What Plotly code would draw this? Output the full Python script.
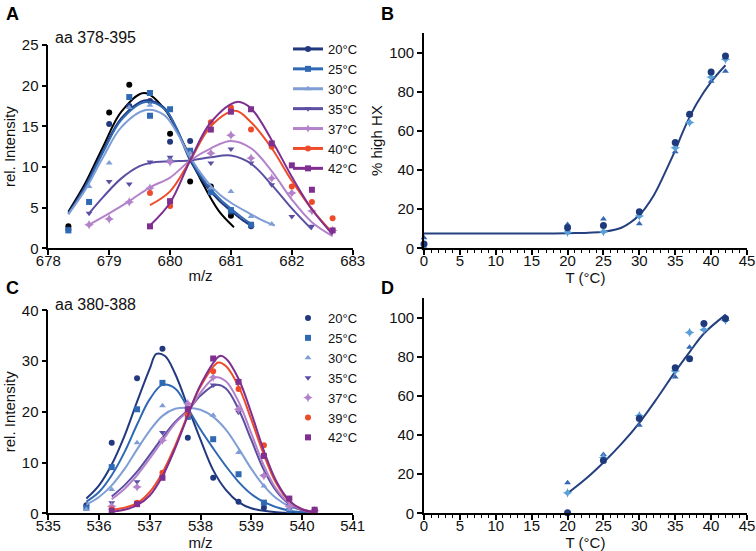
import plotly.graph_objects as go

W, H = 756, 551
FONT = "Liberation Sans, Arial, sans-serif"

# ---------------- Panel A: aa 378-395 ----------------
a_blk_x = [678.33, 679.0, 679.33, 680.0, 680.33, 680.67, 681.0]
a_blk_y = [2.7, 16.7, 20.1, 14.1, 8.2, 7.6, 4.0]
a20_x = [678.33, 679.0, 679.33, 679.67, 680.0, 680.33, 680.67, 681.0, 681.33]
a20_y = [2.3, 15.3, 17.5, 18.1, 13.1, 13.2, 7.2, 4.5, 2.7]
a25_x = [678.33, 678.67, 679.33, 679.67, 679.67, 680.0, 680.33, 680.67, 681.0, 681.33]
a25_y = [2.2, 5.7, 18.6, 19.1, 16.3, 17.1, 12.0, 6.9, 4.7, 2.9]
a30_x = [678.67, 679.0, 679.33, 679.67, 680.0, 680.33, 680.67, 681.0, 681.33, 681.67]
a30_y = [7.6, 10.5, 17.3, 17.6, 11.0, 11.7, 7.4, 7.0, 3.9, 3.0]
a35_x = [678.67, 679.0, 679.33, 679.67, 680.0, 680.67, 681.0, 681.33, 681.67, 682.0, 682.33]
a35_y = [4.3, 8.2, 7.9, 10.6, 11.2, 10.5, 12.2, 10.5, 7.8, 3.9, 2.7]
a37_x = [678.67, 679.0, 679.33, 679.67, 680.0, 680.67, 681.0, 681.33, 681.67, 682.0, 682.33, 682.67]
a37_y = [2.9, 3.6, 5.7, 7.4, 10.6, 11.7, 13.9, 11.1, 8.6, 6.8, 4.6, 2.2]
a40_x = [679.67, 680.0, 680.67, 681.0, 681.33, 681.67, 682.0, 682.33, 682.67]
a40_y = [6.8, 5.2, 15.5, 17.3, 14.6, 12.5, 7.6, 5.7, 3.7]
a42_x = [679.67, 680.0, 680.67, 681.0, 681.33, 681.67, 682.0, 682.33, 682.67]
a42_y = [2.7, 5.8, 14.6, 16.8, 17.1, 12.9, 10.2, 7.2, 2.2]

# fitted curves, panel A
fa_blk_x = [678.33, 678.6, 678.9, 679.2, 679.57, 679.9, 680.2, 680.5, 680.8, 681.05]
fa_blk_y = [4.5, 7.9, 12.5, 16.8, 19.1, 17.2, 13.2, 8.5, 4.6, 2.6]
fa20_x = [678.33, 678.6, 678.9, 679.2, 679.6, 679.9, 680.1, 680.33, 680.6, 680.8, 681.0, 681.2, 681.38]
fa20_y = [4.3, 7.6, 12.0, 16.0, 18.2, 17.3, 14.8, 10.8, 7.6, 5.9, 4.6, 3.4, 2.6]
fa25_x = [678.33, 678.6, 678.9, 679.2, 679.6, 679.9, 680.1, 680.33, 680.6, 680.8, 681.0, 681.2, 681.38]
fa25_y = [4.2, 7.4, 11.8, 15.8, 18.0, 17.2, 14.9, 11.0, 7.9, 6.2, 4.9, 3.7, 2.8]
fa30_x = [678.33, 678.6, 678.9, 679.2, 679.6, 679.9, 680.1, 680.33, 680.6, 680.8, 681.0, 681.3, 681.5, 681.72]
fa30_y = [4.2, 7.1, 11.2, 14.9, 17.0, 16.4, 14.4, 11.2, 8.3, 6.7, 5.6, 4.3, 3.5, 2.8]
fa35_x = [678.67, 678.9, 679.2, 679.5, 679.67, 680.0, 680.33, 680.67, 681.0, 681.33, 681.67, 682.0, 682.33]
fa35_y = [4.3, 6.3, 8.6, 10.1, 10.5, 10.7, 10.8, 11.2, 11.4, 10.4, 7.8, 4.9, 2.3]
fa37_x = [678.67, 679.0, 679.33, 679.67, 680.0, 680.33, 680.67, 681.0, 681.33, 681.67, 682.0, 682.33, 682.67]
fa37_y = [2.9, 4.3, 5.8, 7.5, 8.7, 10.8, 12.3, 13.2, 12.3, 9.5, 6.0, 3.2, 1.5]
fa40_x = [679.67, 680.0, 680.33, 680.67, 681.07, 681.33, 681.67, 682.0, 682.33, 682.67]
fa40_y = [5.3, 7.0, 10.8, 15.0, 16.9, 15.5, 12.3, 8.3, 4.8, 1.9]
fa42_x = [679.67, 680.0, 680.33, 680.67, 681.1, 681.33, 681.67, 682.0, 682.33, 682.67]
fa42_y = [2.8, 5.6, 10.8, 15.5, 18.0, 17.2, 13.3, 8.8, 4.8, 1.7]

# ---------------- Panel B ----------------
b_T = [0, 20, 25, 30, 35, 37, 40, 42]
b_circ = [2.2, 10.5, 11.7, 18.7, 54.1, 68.5, 90.1, 98.3]
b_tri = [5.4, 12.2, 15.0, 12.6, 49.3, 68.0, 85.4, 90.5]
b_dia = [0.0, 8.2, 8.5, 16.5, 51.4, 64.3, 87.5, 96.6]
fb_T = [0, 10, 20, 25, 27.5, 30, 32, 34, 35, 36, 37, 38, 40, 42]
fb_y = [7.6, 7.6, 7.7, 8.5, 10.5, 17.0, 27.0, 42.0, 50.0, 59.0, 67.0, 74.0, 85.0, 93.5]

# ---------------- Panel C: aa 380-388 ----------------
c20_x = [535.75, 536.25, 536.75, 537.25, 537.75, 538.25, 538.75, 539.25]
c20_y = [1.6, 13.9, 26.6, 32.4, 14.9, 7.0, 2.3, 1.1]
c25_x = [535.75, 536.25, 536.75, 537.25, 537.75, 538.25, 538.75, 539.25, 539.75, 540.25]
c25_y = [1.1, 9.1, 20.5, 25.7, 19.0, 14.6, 7.7, 2.1, 0.5, 0.3]
c30_x = [535.75, 536.25, 536.75, 537.25, 537.75, 538.25, 538.75, 539.25, 539.75, 540.25]
c30_y = [0.8, 4.7, 13.9, 21.2, 21.0, 19.3, 12.0, 5.4, 0.8, 0.3]
c35_x = [536.25, 536.75, 537.25, 537.75, 538.25, 538.75, 539.25, 539.75, 540.25]
c35_y = [2.1, 6.2, 15.9, 20.5, 25.3, 19.9, 7.4, 1.5, 0.4]
c37_x = [536.25, 536.75, 537.25, 537.75, 538.25, 538.75, 539.25, 539.75, 540.25]
c37_y = [1.4, 5.2, 14.4, 21.6, 26.8, 20.5, 7.4, 1.4, 0.5]
c39_x = [536.25, 536.75, 537.25, 537.75, 538.25, 538.75, 539.25, 539.75, 540.25]
c39_y = [0.8, 2.1, 8.0, 19.5, 28.0, 24.5, 13.4, 2.8, 0.5]
c42_x = [536.25, 536.75, 537.25, 537.75, 538.25, 538.75, 539.25, 539.75, 540.25]
c42_y = [0.5, 1.8, 7.0, 20.5, 30.5, 25.9, 11.3, 2.9, 0.7]

fc20_x = [535.75, 536.0, 536.25, 536.5, 536.75, 537.0, 537.13, 537.3, 537.5, 537.78, 538.0, 538.25, 538.5, 538.75, 539.0, 539.5, 540.25]
fc20_y = [2.9, 5.5, 9.6, 15.2, 22.0, 28.5, 31.4, 31.0, 27.5, 20.2, 14.5, 8.5, 4.6, 2.2, 1.0, 0.2, 0.0]
fc25_x = [535.75, 536.0, 536.25, 536.5, 536.75, 537.0, 537.25, 537.5, 537.78, 538.0, 538.25, 538.5, 538.75, 539.0, 539.25, 539.75, 540.25]
fc25_y = [2.3, 4.2, 7.5, 12.0, 17.5, 22.5, 25.3, 24.6, 20.2, 16.5, 12.8, 9.3, 6.2, 3.8, 2.2, 0.5, 0.1]
fc30_x = [535.75, 536.0, 536.25, 536.5, 536.75, 537.0, 537.25, 537.5, 537.75, 538.0, 538.25, 538.5, 538.75, 539.0, 539.25, 539.5, 539.75, 540.25]
fc30_y = [1.7, 3.2, 5.5, 8.7, 12.6, 16.3, 19.2, 20.6, 20.8, 20.4, 19.0, 16.5, 12.8, 8.8, 5.4, 2.9, 1.4, 0.2]
fc35_x = [536.25, 536.5, 536.75, 537.0, 537.25, 537.5, 537.78, 538.0, 538.3, 538.5, 538.75, 539.0, 539.25, 539.5, 539.75, 540.0, 540.25]
fc35_y = [3.3, 5.5, 8.2, 11.5, 14.9, 18.0, 20.6, 23.2, 25.3, 24.6, 20.5, 14.5, 8.5, 4.3, 1.8, 0.6, 0.2]
fc37_x = [536.25, 536.5, 536.75, 537.0, 537.25, 537.5, 537.78, 538.0, 538.3, 538.5, 538.75, 539.0, 539.25, 539.5, 539.75, 540.0, 540.25]
fc37_y = [2.8, 4.8, 7.5, 10.8, 14.3, 17.7, 20.5, 23.8, 26.8, 26.0, 22.0, 15.8, 9.4, 4.7, 2.0, 0.7, 0.2]
fc39_x = [536.25, 536.5, 536.75, 537.0, 537.25, 537.5, 537.78, 538.0, 538.35, 538.5, 538.75, 539.0, 539.25, 539.5, 539.75, 540.0, 540.25]
fc39_y = [0.7, 1.1, 2.0, 4.2, 8.0, 13.3, 20.2, 25.0, 29.7, 29.0, 25.0, 18.5, 11.5, 5.8, 2.4, 0.8, 0.2]
fc42_x = [536.25, 536.5, 536.75, 537.0, 537.25, 537.5, 537.78, 538.0, 538.38, 538.5, 538.75, 539.0, 539.25, 539.5, 539.75, 540.0, 540.25]
fc42_y = [0.3, 0.7, 1.6, 3.5, 7.3, 12.8, 20.0, 25.3, 31.0, 30.5, 26.5, 19.8, 12.3, 6.2, 2.5, 0.8, 0.2]

# ---------------- Panel D ----------------
d_T = [20, 25, 30, 35, 37, 39, 42]
d_circ = [0.3, 27.0, 48.5, 74.5, 79.1, 97.1, 99.7]
d_tri = [15.6, 30.1, 45.0, 69.7, 85.0, 94.0, 100.5]
d_dia = [10.5, 28.5, 50.0, 72.8, 92.5, 94.0, 98.8]
fd_T = [20, 22.5, 25, 27.5, 30, 32.5, 35, 37, 39, 42]
fd_y = [10.2, 17.5, 26.0, 35.5, 46.3, 59.0, 72.5, 82.5, 92.0, 101.5]

labels_A = ["20°C", "25°C", "30°C", "35°C", "37°C", "40°C", "42°C"]
labels_C = ["20°C", "25°C", "30°C", "35°C", "37°C", "39°C", "42°C"]

COL = {
    "20": "#22397f", "25": "#2f69b3", "30": "#7f9ed6", "35": "#5a4fa3",
    "37": "#b382ca", "40": "#ee4b2b", "42": "#7e2f90",
}
SYM = ["circle", "square", "triangle-up", "triangle-down", "star-diamond", "circle", "square"]
SIZE = [6, 6, 6, 6, 7, 6, 6]
keys = ["20", "25", "30", "35", "37", "40", "42"]

fig = go.Figure()

# Panel A ---------------------------------------------------------------
pts_A = [(a20_x, a20_y), (a25_x, a25_y), (a30_x, a30_y), (a35_x, a35_y),
         (a37_x, a37_y), (a40_x, a40_y), (a42_x, a42_y)]
fits_A = [(fa20_x, fa20_y), (fa25_x, fa25_y), (fa30_x, fa30_y), (fa35_x, fa35_y),
          (fa37_x, fa37_y), (fa40_x, fa40_y), (fa42_x, fa42_y)]

fig.add_trace(go.Scatter(x=fa_blk_x, y=fa_blk_y, mode="lines", line=dict(color="black", width=2, shape="spline"),
                         showlegend=False, xaxis="x", yaxis="y", hoverinfo="skip"))
fig.add_trace(go.Scatter(x=a_blk_x, y=a_blk_y, mode="markers", marker=dict(color="black", size=6),
                         showlegend=False, xaxis="x", yaxis="y", cliponaxis=False))
for i, k in enumerate(keys):
    fx, fy = fits_A[i]
    px, py = pts_A[i]
    fig.add_trace(go.Scatter(x=fx, y=fy, mode="lines", line=dict(color=COL[k], width=2, shape="spline"),
                             showlegend=False, xaxis="x", yaxis="y", hoverinfo="skip"))
    fig.add_trace(go.Scatter(x=px, y=py, mode="markers",
                             marker=dict(color=COL[k], size=SIZE[i], symbol=SYM[i]),
                             showlegend=False, xaxis="x", yaxis="y", cliponaxis=False))
    # legend entry (line + marker)
    fig.add_trace(go.Scatter(x=[None], y=[None], mode="lines+markers", name=labels_A[i],
                             line=dict(color=COL[k], width=3), marker=dict(color=COL[k], size=6, symbol=SYM[i]),
                             legend="legend", xaxis="x", yaxis="y"))

# Panel C ---------------------------------------------------------------
pts_C = [(c20_x, c20_y), (c25_x, c25_y), (c30_x, c30_y), (c35_x, c35_y),
         (c37_x, c37_y), (c39_x, c39_y), (c42_x, c42_y)]
fits_C = [(fc20_x, fc20_y), (fc25_x, fc25_y), (fc30_x, fc30_y), (fc35_x, fc35_y),
          (fc37_x, fc37_y), (fc39_x, fc39_y), (fc42_x, fc42_y)]
for i, k in enumerate(keys):
    fx, fy = fits_C[i]
    px, py = pts_C[i]
    fig.add_trace(go.Scatter(x=fx, y=fy, mode="lines", line=dict(color=COL[k], width=2, shape="spline"),
                             showlegend=False, xaxis="x3", yaxis="y3", hoverinfo="skip"))
    fig.add_trace(go.Scatter(x=px, y=py, mode="markers", name=labels_C[i],
                             marker=dict(color=COL[k], size=SIZE[i], symbol=SYM[i]),
                             legend="legend2", showlegend=True, xaxis="x3", yaxis="y3", cliponaxis=False))

# Panels B and D --------------------------------------------------------
C_CIRC, C_TRI, C_DIA, C_FIT = "#1f3a7c", "#3566b3", "#5b9fd8", "#24407f"
for (T, ycirc, ytri, ydia, fT, fy, xa, ya) in [
        (b_T, b_circ, b_tri, b_dia, fb_T, fb_y, "x2", "y2"),
        (d_T, d_circ, d_tri, d_dia, fd_T, fd_y, "x4", "y4")]:
    fig.add_trace(go.Scatter(x=fT, y=fy, mode="lines", line=dict(color=C_FIT, width=2, shape="spline"),
                             showlegend=False, xaxis=xa, yaxis=ya, hoverinfo="skip"))
    fig.add_trace(go.Scatter(x=T, y=ytri, mode="markers", marker=dict(color=C_TRI, size=6, symbol="triangle-up"),
                             showlegend=False, xaxis=xa, yaxis=ya, cliponaxis=False))
    fig.add_trace(go.Scatter(x=T, y=ydia, mode="markers", marker=dict(color=C_DIA, size=7, symbol="star-diamond"),
                             showlegend=False, xaxis=xa, yaxis=ya, cliponaxis=False))
    fig.add_trace(go.Scatter(x=T, y=ycirc, mode="markers", marker=dict(color=C_CIRC, size=7, symbol="circle"),
                             showlegend=False, xaxis=xa, yaxis=ya, cliponaxis=False))


def px_x(p):
    return p / W


def px_y(p):
    return 1 - p / H


tickfont = dict(family=FONT, size=15, color="#111")
titlefont = dict(family=FONT, size=15, color="#111")
base = dict(showline=True, linecolor="black", linewidth=1.6, ticks="outside", ticklen=5, tickwidth=1.5,
            tickcolor="black", showgrid=False, zeroline=False, tickfont=tickfont, automargin=False, fixedrange=True)
bx = dict(base, ticklabelstandoff=-7)
by = dict(base, ticklabelstandoff=0)

yA = dict(domain=[px_y(248.3), px_y(45)])
yB = dict(domain=[px_y(248.3), px_y(33)])
yC = dict(domain=[px_y(513.3), px_y(310.3)])
yD = dict(domain=[px_y(513.3), px_y(298.3)])
xL = [px_x(48.3), px_x(352.7)]
xR = [px_x(424), px_x(747)]

minor = dict(ticks="outside", ticklen=3, tickwidth=1.2, tickcolor="black", dtick=1, showgrid=False)

fig.update_layout(
    width=W, height=H, margin=dict(l=0, r=0, t=0, b=0),
    paper_bgcolor="white", plot_bgcolor="white", template="none",
    font=dict(family=FONT, color="#111"),
    xaxis=dict(bx, domain=xL, anchor="y", range=[678, 683], dtick=1, tick0=678,
               title=dict(text="m/z", font=titlefont, standoff=2)),
    yaxis=dict(by, **yA, anchor="x", range=[0, 25], dtick=5,
               title=dict(text="rel. Intensity", font=titlefont, standoff=3)),
    xaxis2=dict(bx, domain=xR, anchor="y2", range=[0, 45], dtick=5, tick0=0, minor=minor,
                title=dict(text="T (°C)", font=titlefont, standoff=2)),
    yaxis2=dict(by, **yB, anchor="x2", range=[0, 110], tickvals=[0, 20, 40, 60, 80, 100],
                title=dict(text="% high HX", font=titlefont, standoff=3)),
    xaxis3=dict(bx, domain=xL, anchor="y3", range=[535, 541], dtick=1, tick0=535,
                title=dict(text="m/z", font=titlefont, standoff=2)),
    yaxis3=dict(by, **yC, anchor="x3", range=[0, 40], dtick=10,
                title=dict(text="rel. Intensity", font=titlefont, standoff=3)),
    xaxis4=dict(bx, domain=xR, anchor="y4", range=[0, 45], dtick=5, tick0=0, minor=minor,
                title=dict(text="T (°C)", font=titlefont, standoff=2)),
    yaxis4=dict(by, **yD, anchor="x4", range=[0, 110], tickvals=[0, 20, 40, 60, 80, 100]),
    legend=dict(x=px_x(288), y=px_y(34), xanchor="left", yanchor="top", bgcolor="rgba(0,0,0,0)",
                font=dict(family=FONT, size=13, color="#111"), itemwidth=30, tracegroupgap=0),
    legend2=dict(x=px_x(288), y=px_y(303), xanchor="left", yanchor="top", bgcolor="rgba(0,0,0,0)",
                 font=dict(family=FONT, size=13, color="#111"), itemwidth=30, tracegroupgap=0),
    showlegend=True,
)

letter = dict(family=FONT, size=18, color="black")
ann = [
    dict(text="<b>A</b>", x=px_x(4), y=px_y(2)),
    dict(text="<b>B</b>", x=px_x(379), y=px_y(2)),
    dict(text="<b>C</b>", x=px_x(4), y=px_y(276)),
    dict(text="<b>D</b>", x=px_x(379), y=px_y(276)),
]
for a in ann:
    fig.add_annotation(xref="paper", yref="paper", xanchor="left", yanchor="top", showarrow=False,
                       font=letter, **a)
fig.add_annotation(text="aa 378-395", xref="paper", yref="paper", x=px_x(53), y=px_y(37),
                   xanchor="left", yanchor="middle", showarrow=False, font=dict(family=FONT, size=16, color="#111"))
fig.add_annotation(text="aa 380-388", xref="paper", yref="paper", x=px_x(53), y=px_y(304),
                   xanchor="left", yanchor="middle", showarrow=False, font=dict(family=FONT, size=16, color="#111"))

fig.write_html("out.html", config={"displayModeBar": False},
               post_script="document.body.style.margin='0px';document.body.style.overflow='hidden';")
